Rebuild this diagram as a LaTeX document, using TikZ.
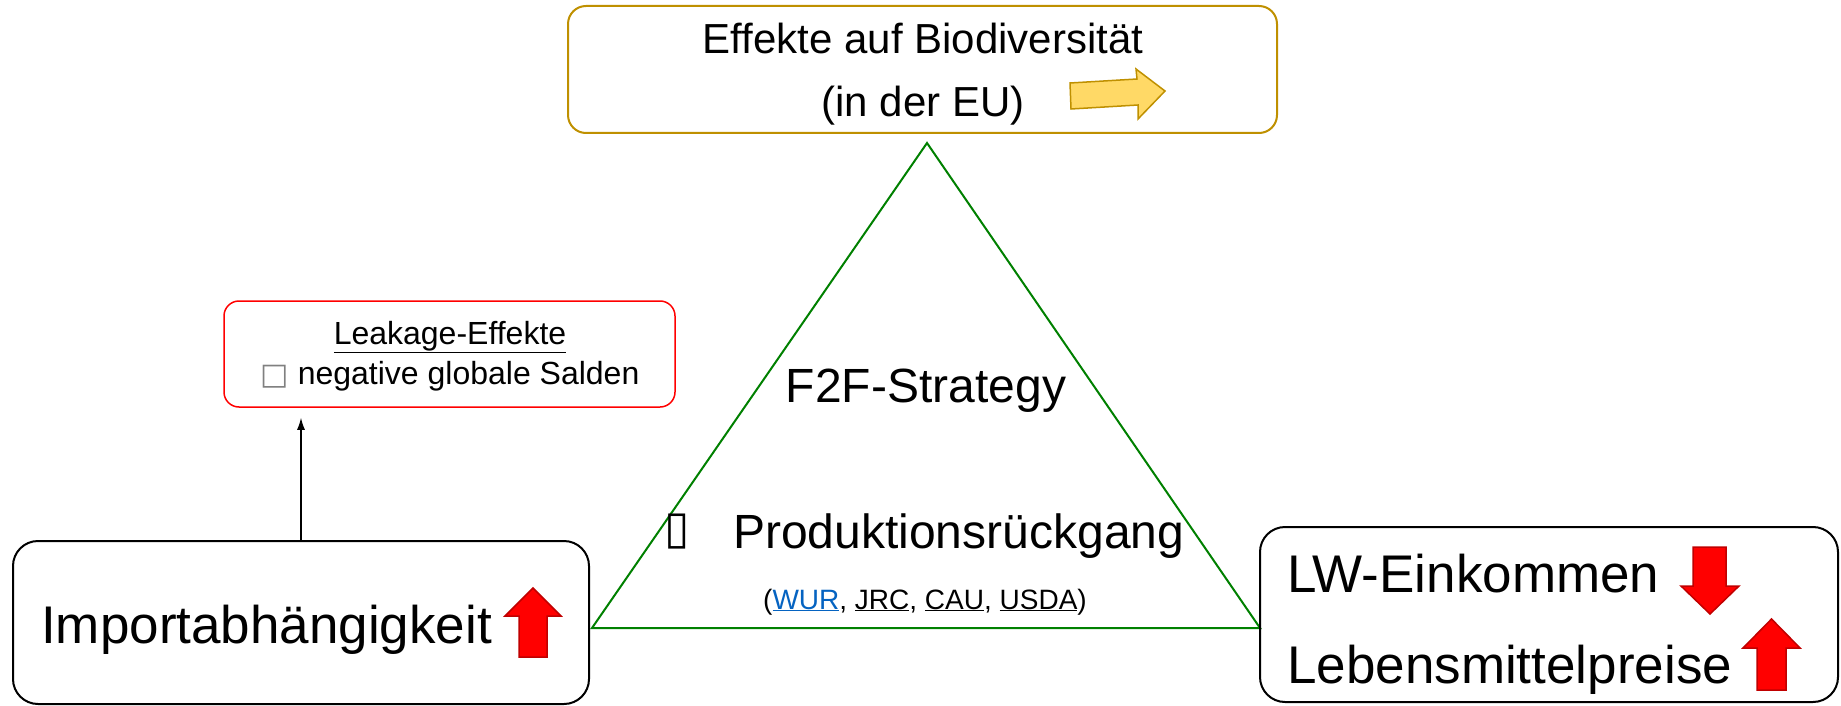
\documentclass[tikz,border=0pt]{standalone}
\usepackage{fontspec}
\setmainfont{Liberation Sans}
\newfontfamily\symbfont{DejaVu Sans}
\usetikzlibrary{calc}
\usetikzlibrary{arrows.meta}
\usetikzlibrary{positioning}

\definecolor{biogold}{HTML}{BF9000}
\definecolor{arrowyellow}{HTML}{FFD966}
\definecolor{f2fgreen}{HTML}{008000}
\definecolor{uparrowred}{HTML}{FF0000}
\definecolor{arrowedge}{HTML}{C00000}
\definecolor{linkblue}{HTML}{0563C1}

\begin{document}
\begin{tikzpicture}[x=1pt, y=-1pt,
    box/.style={draw, rounded corners=25pt, line width=2pt, inner sep=0pt},
    bigtext/.style={anchor=base west, inner sep=0pt, font=\fontsize{53}{60}\selectfont},
    redarrow/.style={fill=uparrowred, draw=arrowedge, line width=1.5pt}]
    \useasboundingbox (0,0) rectangle (1841,706);

    % Biodiversity box
    \node[box, draw=biogold, rounded corners=18pt, minimum width=709pt, minimum height=127pt] (bio) at (922.5,69.5) {};
    \node[anchor=base, inner sep=0pt, font=\fontsize{42}{50}\selectfont] (biotext) at (923,54) {Effekte auf Biodiversität};
    \node[anchor=base, inner sep=0pt, font=\fontsize{42}{50}\selectfont] (eutext) at (923,117) {(in der EU)};

    % Yellow arrow
    \filldraw[fill=arrowyellow, draw=biogold, line width=1.5pt]
        (1070,83) -- (1137,79) -- (1136,69) -- (1165,91) -- (1138,119) -- (1138,105) -- (1071,109) -- cycle;

    % Triangle
    \coordinate (apex) at (927,143);
    \coordinate (baseleft) at (592,628);
    \coordinate (baseright) at (1260,628);
    \draw[f2fgreen, line width=2pt] (apex) -- (baseleft) -- (baseright) -- cycle;

    \node[anchor=base, inner sep=0pt, font=\fontsize{48}{56}\selectfont] (f2f) at (926,402) {F2F-Strategy};
    \node[anchor=base west, inner sep=0pt, font=\fontsize{48}{56}\selectfont] (prod) at (733,548) {Produktionsrückgang};
    \node[anchor=base east, inner sep=0pt, font=\fontsize{46}{54}\symbfont] (prodsym) at (690,543) {▯};
    \node[anchor=base, inner sep=0pt, font=\fontsize{28}{32}\selectfont] (refs) at (925,609)
        {(\textcolor{linkblue}{\underline{WUR}}, \underline{JRC}, \underline{CAU}, \underline{USDA})};

    % Leakage box
    \node[box, draw=red, rounded corners=15pt, line width=1.5pt, minimum width=451pt, minimum height=106pt] (leak) at (449.5,354) {};
    \node[anchor=base, inner sep=0pt, font=\fontsize{32}{38}\selectfont] (leaktitle) at (450,344) {\underline{Leakage-Effekte}};
    \node[anchor=base, inner sep=0pt, font=\fontsize{32}{38}\selectfont] (leaktext) at (450,384)
        {{\color{gray}\fontsize{30}{36}\symbfont □}\ negative globale Salden};

    % Import box
    \node[box, minimum width=576pt, minimum height=163pt] (imp) at (301,622.5) {};
    \node[bigtext] (imptext) at (41,643) {Importabhängigkeit};
    \filldraw[redarrow] (533,588) -- (561,616) -- (547,616) -- (547,657) -- (519,657) -- (519,616) -- (505,616) -- cycle;

    % Arrow to leakage
    \draw[-{Latex[length=12pt, width=8pt]}, line width=1.3pt, shorten >=10pt] (imp.north) -- (imp.north |- leak.south);

    % Income / price box
    \node[box, minimum width=578pt, minimum height=175pt] (lw) at (1549,614.5) {};
    \node[bigtext] (lwtext) at (1287,592) {LW-Einkommen};
    \node[bigtext] (pricetext) at (1287,683) {Lebensmittelpreise};
    \filldraw[redarrow] (1693,547) -- (1726,547) -- (1726,586) -- (1739,586) -- (1710,614) -- (1681,586) -- (1693,586) -- cycle;
    \filldraw[redarrow] (1771.5,619) -- (1800,648) -- (1786,648) -- (1786,690) -- (1757,690) -- (1757,648) -- (1743,648) -- cycle;

\end{tikzpicture}
\end{document}
